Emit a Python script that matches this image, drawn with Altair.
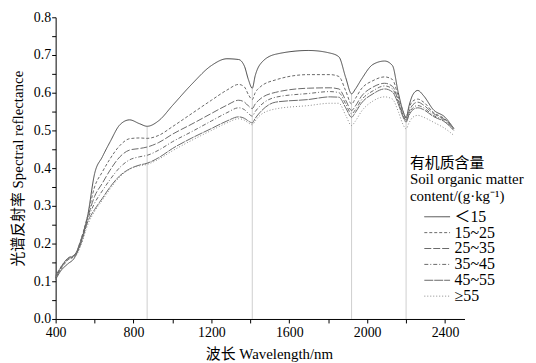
import altair as alt
import pandas as pd

wavelength = [400, 430, 460, 500, 530, 565, 600, 640, 680, 730, 780, 830, 870, 930, 1000,
              1100, 1200, 1280, 1340, 1370, 1390, 1410, 1425, 1450, 1530, 1700, 1810, 1855,
              1890, 1920, 1940, 1970, 2030, 2090, 2130, 2160, 2185, 2200, 2215, 2235, 2260,
              2290, 2340, 2400, 2445]

s_lt15 = [0.105, 0.130, 0.145, 0.165, 0.205, 0.275, 0.385, 0.430, 0.470, 0.515, 0.528, 0.518, 0.511, 0.526, 0.566,
          0.623, 0.672, 0.690, 0.688, 0.670, 0.635, 0.612, 0.645, 0.675, 0.702, 0.712, 0.705, 0.695,
          0.640, 0.597, 0.610, 0.635, 0.675, 0.684, 0.672, 0.600, 0.550, 0.533, 0.565, 0.595, 0.606,
          0.592, 0.555, 0.535, 0.505]
s_15_25 = [0.110, 0.135, 0.155, 0.170, 0.210, 0.275, 0.350, 0.390, 0.425, 0.460, 0.478, 0.480, 0.479, 0.487, 0.510,
           0.545, 0.580, 0.607, 0.622, 0.615, 0.595, 0.582, 0.600, 0.615, 0.634, 0.648, 0.648, 0.643,
           0.605, 0.570, 0.585, 0.610, 0.632, 0.642, 0.635, 0.590, 0.550, 0.535, 0.560, 0.578, 0.583,
           0.575, 0.548, 0.530, 0.505]
s_25_35 = [0.115, 0.140, 0.160, 0.172, 0.210, 0.270, 0.325, 0.360, 0.395, 0.430, 0.448, 0.452, 0.456, 0.468, 0.490,
           0.517, 0.545, 0.567, 0.580, 0.575, 0.565, 0.558, 0.570, 0.583, 0.601, 0.612, 0.613, 0.610,
           0.580, 0.553, 0.565, 0.590, 0.615, 0.625, 0.617, 0.580, 0.540, 0.527, 0.550, 0.568, 0.575,
           0.567, 0.545, 0.528, 0.505]
s_35_45 = [0.110, 0.140, 0.160, 0.170, 0.205, 0.265, 0.307, 0.340, 0.370, 0.402, 0.422, 0.430, 0.434, 0.448, 0.470,
           0.497, 0.525, 0.547, 0.560, 0.555, 0.545, 0.538, 0.550, 0.565, 0.588, 0.598, 0.603, 0.600,
           0.570, 0.544, 0.555, 0.580, 0.605, 0.618, 0.610, 0.575, 0.540, 0.525, 0.545, 0.560, 0.566,
           0.560, 0.540, 0.525, 0.502]
s_45_55 = [0.108, 0.138, 0.158, 0.168, 0.200, 0.258, 0.290, 0.320, 0.350, 0.380, 0.398, 0.408, 0.413, 0.428, 0.452,
           0.480, 0.505, 0.525, 0.536, 0.532, 0.525, 0.520, 0.532, 0.548, 0.575, 0.582, 0.589, 0.588,
           0.560, 0.535, 0.548, 0.572, 0.597, 0.610, 0.602, 0.570, 0.535, 0.522, 0.540, 0.555, 0.560,
           0.555, 0.537, 0.522, 0.500]
s_ge55 = [0.105, 0.135, 0.155, 0.165, 0.195, 0.250, 0.285, 0.315, 0.345, 0.377, 0.397, 0.406, 0.410, 0.424, 0.446,
          0.474, 0.500, 0.520, 0.531, 0.527, 0.520, 0.515, 0.525, 0.540, 0.557, 0.566, 0.572, 0.572,
          0.540, 0.513, 0.525, 0.550, 0.578, 0.589, 0.583, 0.550, 0.515, 0.504, 0.520, 0.535, 0.540,
          0.535, 0.522, 0.505, 0.487]

series_names = ["＜15", "15~25", "25~35", "35~45", "45~55", "≥55"]
series_values = [s_lt15, s_15_25, s_25_35, s_35_45, s_45_55, s_ge55]

marker_wl = [870, 1410, 1920, 2200]
marker_top = [0.511, 0.612, 0.597, 0.533]

x_ticks = list(range(400, 2401, 200))
y_ticks = [round(i * 0.05, 2) for i in range(17)]

rows = []
for name, vals in zip(series_names, series_values):
    for w, v in zip(wavelength, vals):
        rows.append({"wl": w, "r": v, "group": name})
df = pd.DataFrame(rows)
mk = pd.DataFrame({"wl": marker_wl, "top": marker_top, "zero": [0.0] * len(marker_wl)})

FONT = "Liberation Serif, Times New Roman, Noto Sans CJK SC"
legend_title = ["有机质含量", "Soil organic matter", "content/(g·kg⁻¹)"]

x_scale = alt.Scale(domain=[400, 2500], nice=False, zero=False)
y_scale = alt.Scale(domain=[0, 0.8], nice=False)

x_axis = alt.Axis(values=x_ticks, format="d", labelFlush=False,
                  labelExpr="datum.value % 400 === 0 ? datum.label : ''",
                  title="波长 Wavelength/nm", tickSize=4, grid=False, titleX=215)
y_axis = alt.Axis(values=y_ticks, labelFlush=False,
                  labelExpr="round(datum.value*100) % 10 === 0 ? format(datum.value, '.1f') : ''",
                  title="光谱反射率 Spectral reflectance", tickSize=4, grid=False)

rules = alt.Chart(mk).mark_rule(color="#cfcfcf", strokeWidth=1).encode(
    x=alt.X("wl:Q", scale=x_scale, axis=x_axis),
    y=alt.Y("zero:Q", scale=y_scale, axis=y_axis),
    y2="top:Q",
)

lines = alt.Chart(df).mark_line(strokeWidth=1, interpolate="monotone").encode(
    x=alt.X("wl:Q", scale=x_scale, axis=x_axis),
    y=alt.Y("r:Q", scale=y_scale, axis=y_axis),
    color=alt.Color("group:N", sort=series_names, title=legend_title,
                    scale=alt.Scale(domain=series_names,
                                    range=["#4a4a4a", "#6a6a6a", "#6a6a6a", "#6a6a6a", "#6a6a6a", "#8a8a8a"])),
    strokeDash=alt.StrokeDash("group:N", sort=series_names, title=legend_title,
                              scale=alt.Scale(domain=series_names,
                                              range=[[1, 0], [3, 2], [7, 2], [4, 2, 1, 2], [9, 1], [1, 2]])),
    detail="group:N",
)

chart = alt.layer(rules, lines).properties(
    width=412, height=304,
    padding={"left": 48, "top": 8, "right": 64, "bottom": 43},
    autosize=alt.AutoSizeParams(type="none"),
).configure_view(stroke=None).configure_axis(
    labelFont=FONT, titleFont=FONT, labelFontSize=14, titleFontSize=15,
    labelColor="#000", titleColor="#000", titleFontWeight="normal",
    domainColor="#000", tickColor="#000", domainWidth=1, tickWidth=1,
).configure_axisX(titlePadding=7, labelPadding=3).configure_axisY(titlePadding=8, labelPadding=1).configure_legend(
    orient="none", legendX=357, legendY=140,
    titleFont=FONT, labelFont=FONT, titleFontSize=15, labelFontSize=16,
    titleFontWeight="normal", titleColor="#000", labelColor="#000",
    titleLineHeight=16.5, titlePadding=5, symbolType="M0.87,0H4.33", symbolSize=225,
    symbolStrokeWidth=1, rowPadding=0, labelOffset=29, padding=0,
)

chart.save("out.html", embed_options={"renderer": "svg", "actions": False})
